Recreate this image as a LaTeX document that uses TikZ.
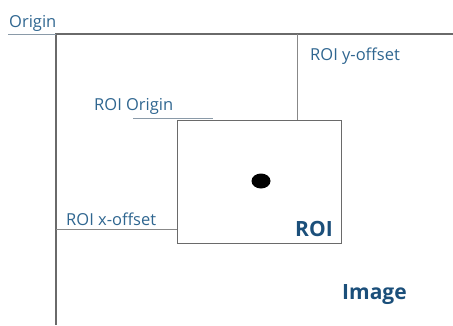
\documentclass[tikz,border=0pt]{standalone}
\usepackage{fontspec}
\usetikzlibrary{shapes.geometric}
\setmainfont{Open Sans}
\definecolor{lbl}{HTML}{2F6690}
\definecolor{bold}{HTML}{1B4F7A}
\definecolor{ln}{HTML}{6A6A6A}
\definecolor{lnlight}{HTML}{8A9AA8}
\tikzset{
  lab/.style={text=lbl, font=\fontsize{16.5}{18}\selectfont, inner sep=0pt, anchor=west},
  blab/.style={text=bold, font=\fontsize{21}{24}\selectfont\bfseries, inner sep=0pt, anchor=west},
  frame/.style={draw=ln, line width=1.3pt},
  thin/.style={draw=ln!80, line width=0.9pt},
}
\begin{document}
\begin{tikzpicture}[x=1pt,y=-1pt]
\useasboundingbox (0,0) rectangle (453,325);
% image frame
\coordinate (o) at (56,34);
\coordinate (tr) at (453,34);
\coordinate (bl) at (56,325);
\draw[frame] (tr) -- (o) -- (bl);
% origin label and underline
\node[lab] (orig) at (9,23) {Origin};
\coordinate (ou) at (8,34);
\draw[draw=lnlight, line width=1pt] (ou) -- (o);
% ROI box
\node[frame, draw, minimum width=164pt, minimum height=123pt, anchor=north west, inner sep=0pt] (roi) at (177,120) {};
% dot
\node[fill=black, ellipse, minimum width=19pt, minimum height=15pt, inner sep=0pt] (dot) at (261,181) {};
% y-offset line
\coordinate (ytop) at (297,34);
\coordinate (ybot) at (297,120);
\draw[thin] (ytop) -- (ybot);
\node[lab] (yoff) at (310,56) {ROI y-offset};
% x-offset line
\coordinate (xl) at (56,229);
\coordinate (xr) at (177,229);
\draw[thin] (xl) -- (xr);
\node[lab] (xoff) at (66,219) {ROI x-offset};
% ROI origin
\node[lab] (rorig) at (94,106) {ROI Origin};
\coordinate (ru1) at (133,118);
\coordinate (ru2) at (213,118);
\draw[draw=lnlight, line width=0.9pt] (ru1) -- (ru2);
% bold labels
\node[blab] (roilab) at (295,229) {ROI};
\node[blab] (img) at (342,295) {Image};
\end{tikzpicture}
\end{document}
